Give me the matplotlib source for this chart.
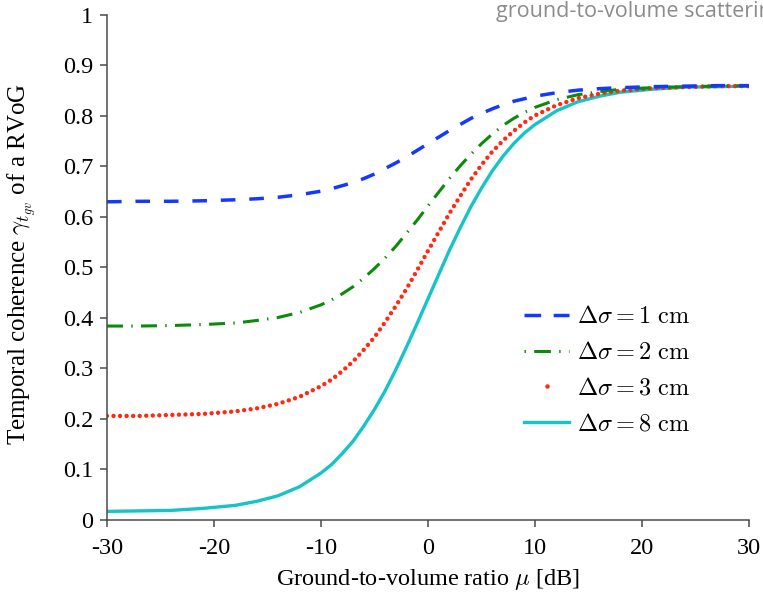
import matplotlib
matplotlib.use("Agg")
import matplotlib.pyplot as plt
from matplotlib.lines import Line2D

# ground-to-volume ratio in dB and the coherence read for each layer spread
mu_db = [-30, -27, -24, -21, -18, -16, -14, -12, -10, -9, -8, -7, -6, -5, -4, -3,
         -2, -1, 0, 1, 2, 3, 4, 5, 6, 7, 8, 9, 10, 12, 14, 16, 18, 21, 24, 27, 30]

coh_1cm = [0.630, 0.631, 0.631, 0.632, 0.634, 0.636, 0.639, 0.644, 0.651, 0.656,
           0.662, 0.668, 0.676, 0.685, 0.696, 0.707, 0.719, 0.732, 0.745, 0.758,
           0.771, 0.783, 0.795, 0.805, 0.814, 0.822, 0.829, 0.834, 0.839, 0.846,
           0.851, 0.854, 0.856, 0.858, 0.859, 0.860, 0.860]
coh_2cm = [0.384, 0.384, 0.385, 0.387, 0.390, 0.395, 0.401, 0.411, 0.426, 0.436,
           0.448, 0.462, 0.479, 0.498, 0.519, 0.542, 0.568, 0.594, 0.622, 0.649,
           0.676, 0.701, 0.724, 0.745, 0.764, 0.781, 0.795, 0.807, 0.817, 0.832,
           0.842, 0.848, 0.853, 0.856, 0.858, 0.859, 0.860]
coh_3cm = [0.206, 0.206, 0.208, 0.210, 0.215, 0.221, 0.230, 0.244, 0.265, 0.278,
           0.295, 0.314, 0.337, 0.362, 0.392, 0.424, 0.458, 0.495, 0.533, 0.570,
           0.607, 0.641, 0.674, 0.703, 0.729, 0.751, 0.770, 0.787, 0.801, 0.821,
           0.835, 0.844, 0.850, 0.855, 0.857, 0.859, 0.859]
coh_8cm = [0.017, 0.018, 0.019, 0.023, 0.029, 0.037, 0.048, 0.066, 0.093, 0.110,
           0.132, 0.156, 0.186, 0.219, 0.256, 0.298, 0.343, 0.390, 0.438, 0.486,
           0.534, 0.578, 0.620, 0.657, 0.691, 0.720, 0.745, 0.766, 0.783, 0.810,
           0.828, 0.839, 0.847, 0.853, 0.857, 0.858, 0.859]

legend_labels = [r"$\Delta\sigma = 1\ \mathrm{cm}$", r"$\Delta\sigma = 2\ \mathrm{cm}$",
                 r"$\Delta\sigma = 3\ \mathrm{cm}$", r"$\Delta\sigma = 8\ \mathrm{cm}$"]
x_ticks = [-30, -20, -10, 0, 10, 20, 30]
y_ticks = [0, 0.1, 0.2, 0.3, 0.4, 0.5, 0.6, 0.7, 0.8, 0.9, 1]
y_ticklabels = ["0", "0.1", "0.2", "0.3", "0.4", "0.5", "0.6", "0.7", "0.8", "0.9", "1"]

BLUE = "#1438ff"
GREEN = "#0b8a0b"
RED = "#ff2a14"
CYAN = "#16c4c8"

plt.rcParams["font.family"] = ["Liberation Serif", "DejaVu Serif"]
plt.rcParams["mathtext.fontset"] = "cm"
plt.rcParams["lines.scale_dashes"] = False

fig = plt.figure(figsize=(7.63, 5.97), dpi=100)
ax = fig.add_axes([0.1402, 0.129, 0.8415, 0.846])

ax.plot(mu_db, coh_8cm, color=CYAN, lw=2.4, solid_capstyle="butt")
ax.plot(mu_db, coh_3cm, color=RED, lw=3.2, linestyle=(0, (0.01, 4.7)),
        dash_capstyle="round")
ax.plot(mu_db, coh_2cm, color=GREEN, lw=2.2, linestyle=(0, (11.5, 6.0, 1.0, 6.0)),
        dash_capstyle="butt")
ax.plot(mu_db, coh_1cm, color=BLUE, lw=2.5, linestyle=(0, (10.5, 10.0)),
        dash_capstyle="butt")

ax.set_xlim(-30, 30)
ax.set_ylim(0, 1)
ax.set_xticks(x_ticks)
ax.set_xticklabels([str(t) for t in x_ticks])
ax.set_yticks(y_ticks)
ax.set_yticklabels(y_ticklabels)

for side in ("top", "right"):
    ax.spines[side].set_visible(False)
for side in ("left", "bottom"):
    ax.spines[side].set_color("#4a4a4a")
    ax.spines[side].set_linewidth(1.1)
ax.tick_params(direction="out", length=5, width=1.1, color="#4a4a4a",
               labelsize=17.5)
ax.tick_params(axis="x", pad=8)
ax.tick_params(axis="y", pad=5)

ax.set_xlabel(r"Ground-to-volume ratio $\mu$ [dB]", fontsize=17.5, labelpad=6)
ax.set_ylabel(r"Temporal coherence $\gamma_{t_{gv}}$ of a RVoG", fontsize=18)
ax.yaxis.set_label_coords(-0.108, 0.507)

handles = [
    Line2D([], [], color=BLUE, lw=2.5, linestyle=(0, (12.0, 9.0))),
    Line2D([], [], color=GREEN, lw=2.2, linestyle=(0, (1.0, 6.0, 12.0, 6.0, 1.0, 6.0))),
    Line2D([], [], color=RED, linestyle="none", marker="o", markersize=3.2,
           markeredgewidth=0),
    Line2D([], [], color=CYAN, lw=2.4),
]
ax.legend(handles, legend_labels, loc="upper left", bbox_to_anchor=(0.635, 0.442),
          frameon=False, fontsize=17.5, handlelength=1.85, handletextpad=0.3,
          labelspacing=0.56, borderaxespad=0)

# slide caption running off the right edge of the canvas
fig.text(0.65, 0.9715, "ground-to-volume scattering", color="#8c8c8c",
         family=["Open Sans", "DejaVu Sans"], fontsize=15.5, ha="left",
         va="baseline")

fig.savefig("out.png", dpi=100)
